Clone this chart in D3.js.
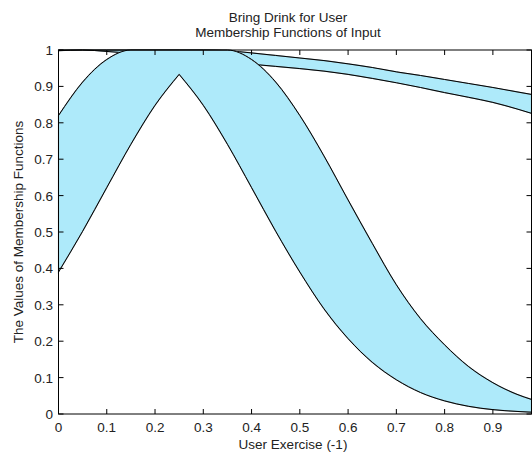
<!DOCTYPE html>
<html>
<head>
<meta charset="utf-8">
<script src="https://cdn.jsdelivr.net/npm/d3@7"></script>
<style>
	body { margin: 0; background: #fff; }
	svg text { font-family: "Liberation Sans", Arial, sans-serif; fill: #222; }
</style>
</head>
<body>
<svg id="chart" width="532" height="453"></svg>
<script>
(function () {
	// x grid the curves were read at
	var xs = [0, 0.05, 0.1, 0.15, 0.2, 0.25, 0.3, 0.35, 0.4, 0.45, 0.5, 0.55, 0.6, 0.65, 0.7, 0.75, 0.8, 0.85, 0.9, 0.95, 0.98],

		// first membership function (peak near 0.25)
		mf1Upper = [0.82, 0.912, 0.974, 1, 1, 1, 1, 1, 0.974, 0.912, 0.82, 0.709, 0.588, 0.469, 0.355, 0.262, 0.19, 0.13, 0.086, 0.054, 0.04],
		mf1Lower = [0.39, 0.502, 0.622, 0.741, 0.848, 0.933, 0.848, 0.741, 0.622, 0.502, 0.39, 0.289, 0.207, 0.142, 0.094, 0.059, 0.036, 0.021, 0.012, 0.007, 0.005],

		// second membership function (wide, top right)
		mf2Upper = [1, 1, 1, 1, 1, 1, 1, 0.998, 0.992, 0.985, 0.978, 0.971, 0.962, 0.952, 0.94, 0.93, 0.919, 0.908, 0.897, 0.885, 0.878],
		mf2Lower = [0.998, 1, 0.996, 0.991, 0.985, 0.979, 0.973, 0.967, 0.961, 0.955, 0.949, 0.942, 0.933, 0.922, 0.91, 0.897, 0.883, 0.87, 0.856, 0.838, 0.826],

		peakIndex = 5,

		xTicks = [0, 0.1, 0.2, 0.3, 0.4, 0.5, 0.6, 0.7, 0.8, 0.9],
		yTicks = [0, 0.1, 0.2, 0.3, 0.4, 0.5, 0.6, 0.7, 0.8, 0.9, 1],

		fillColor = '#aeeafa',
		left = 58.5, right = 531.5, top = 50, bottom = 414,

		svg = d3.select('#chart'),

		x = d3.scaleLinear().domain([0, 0.98]).range([left, right]),
		y = d3.scaleLinear().domain([0, 1]).range([bottom, top]),

		line = d3.line()
			.x(function (d) { return x(d[0]); })
			.y(function (d) { return y(d[1]); })
			.curve(d3.curveMonotoneX),

		pts = function (vals) {
			return xs.map(function (v, i) { return [v, vals[i]]; });
		},

		join = function (a, b) {
			return a + b.replace('M', 'L');
		},

		drawBand = function (parts, bounds) {
			// parts: upper line then lower pieces walked backwards
			var d = parts[0];
			parts.slice(1).forEach(function (p) { d = join(d, p); });
			svg.append('path')
				.attr('d', d + 'Z')
				.attr('fill', fillColor)
				.attr('stroke', '#8a9ea4')
				.attr('stroke-width', 1.2);
			bounds.forEach(function (b) {
				svg.append('path')
					.attr('d', b)
					.attr('fill', 'none')
					.attr('stroke', '#000')
					.attr('stroke-width', 1);
			});
		};

	// second set first, the first one sits over it
	var u2 = line(pts(mf2Upper)),
		l2 = line(pts(mf2Lower)),
		l2r = line(pts(mf2Lower).reverse());
	drawBand([u2, l2r], [u2, l2]);

	var all1 = pts(mf1Lower),
		leftLow = all1.slice(0, peakIndex + 1),
		rightLow = all1.slice(peakIndex),
		u1 = line(pts(mf1Upper));
	drawBand(
		[u1, line(rightLow.slice().reverse()), line(leftLow.slice().reverse())],
		[u1, line(leftLow), line(rightLow)]
	);

	// box and inward ticks
	var axes = svg.append('g').attr('stroke', '#000').attr('stroke-width', 1);
	axes.append('rect')
		.attr('x', left).attr('y', top)
		.attr('width', right - left).attr('height', bottom - top)
		.attr('fill', 'none');

	xTicks.forEach(function (t) {
		axes.append('line').attr('x1', x(t)).attr('x2', x(t)).attr('y1', bottom).attr('y2', bottom - 5);
		axes.append('line').attr('x1', x(t)).attr('x2', x(t)).attr('y1', top).attr('y2', top + 5);
	});
	yTicks.forEach(function (t) {
		axes.append('line').attr('x1', left).attr('x2', left + 5).attr('y1', y(t)).attr('y2', y(t));
		axes.append('line').attr('x1', right).attr('x2', right - 5).attr('y1', y(t)).attr('y2', y(t));
	});

	svg.selectAll('.xl').data(xTicks).enter().append('text')
		.attr('x', function (d) { return x(d); })
		.attr('y', 432)
		.attr('text-anchor', 'middle')
		.attr('font-size', 13.5)
		.text(function (d) { return d3.format('')(d); });

	svg.selectAll('.yl').data(yTicks).enter().append('text')
		.attr('x', 53)
		.attr('y', function (d) { return y(d) + 5; })
		.attr('text-anchor', 'end')
		.attr('font-size', 13.5)
		.text(function (d) { return d3.format('')(d); });

	svg.append('text').attr('x', 293).attr('y', 449).attr('text-anchor', 'middle')
		.attr('font-size', 13.5).text('User Exercise (-1)');

	svg.append('text')
		.attr('transform', 'translate(23,232) rotate(-90)')
		.attr('text-anchor', 'middle')
		.attr('font-size', 13.5)
		.text('The Values of Membership Functions');

	svg.append('text').attr('x', 288).attr('y', 21.5).attr('text-anchor', 'middle')
		.attr('font-size', 13.5).text('Bring Drink for User');
	svg.append('text').attr('x', 288).attr('y', 36.5).attr('text-anchor', 'middle')
		.attr('font-size', 13.5).text('Membership Functions of Input');
})();
</script>
</body>
</html>
